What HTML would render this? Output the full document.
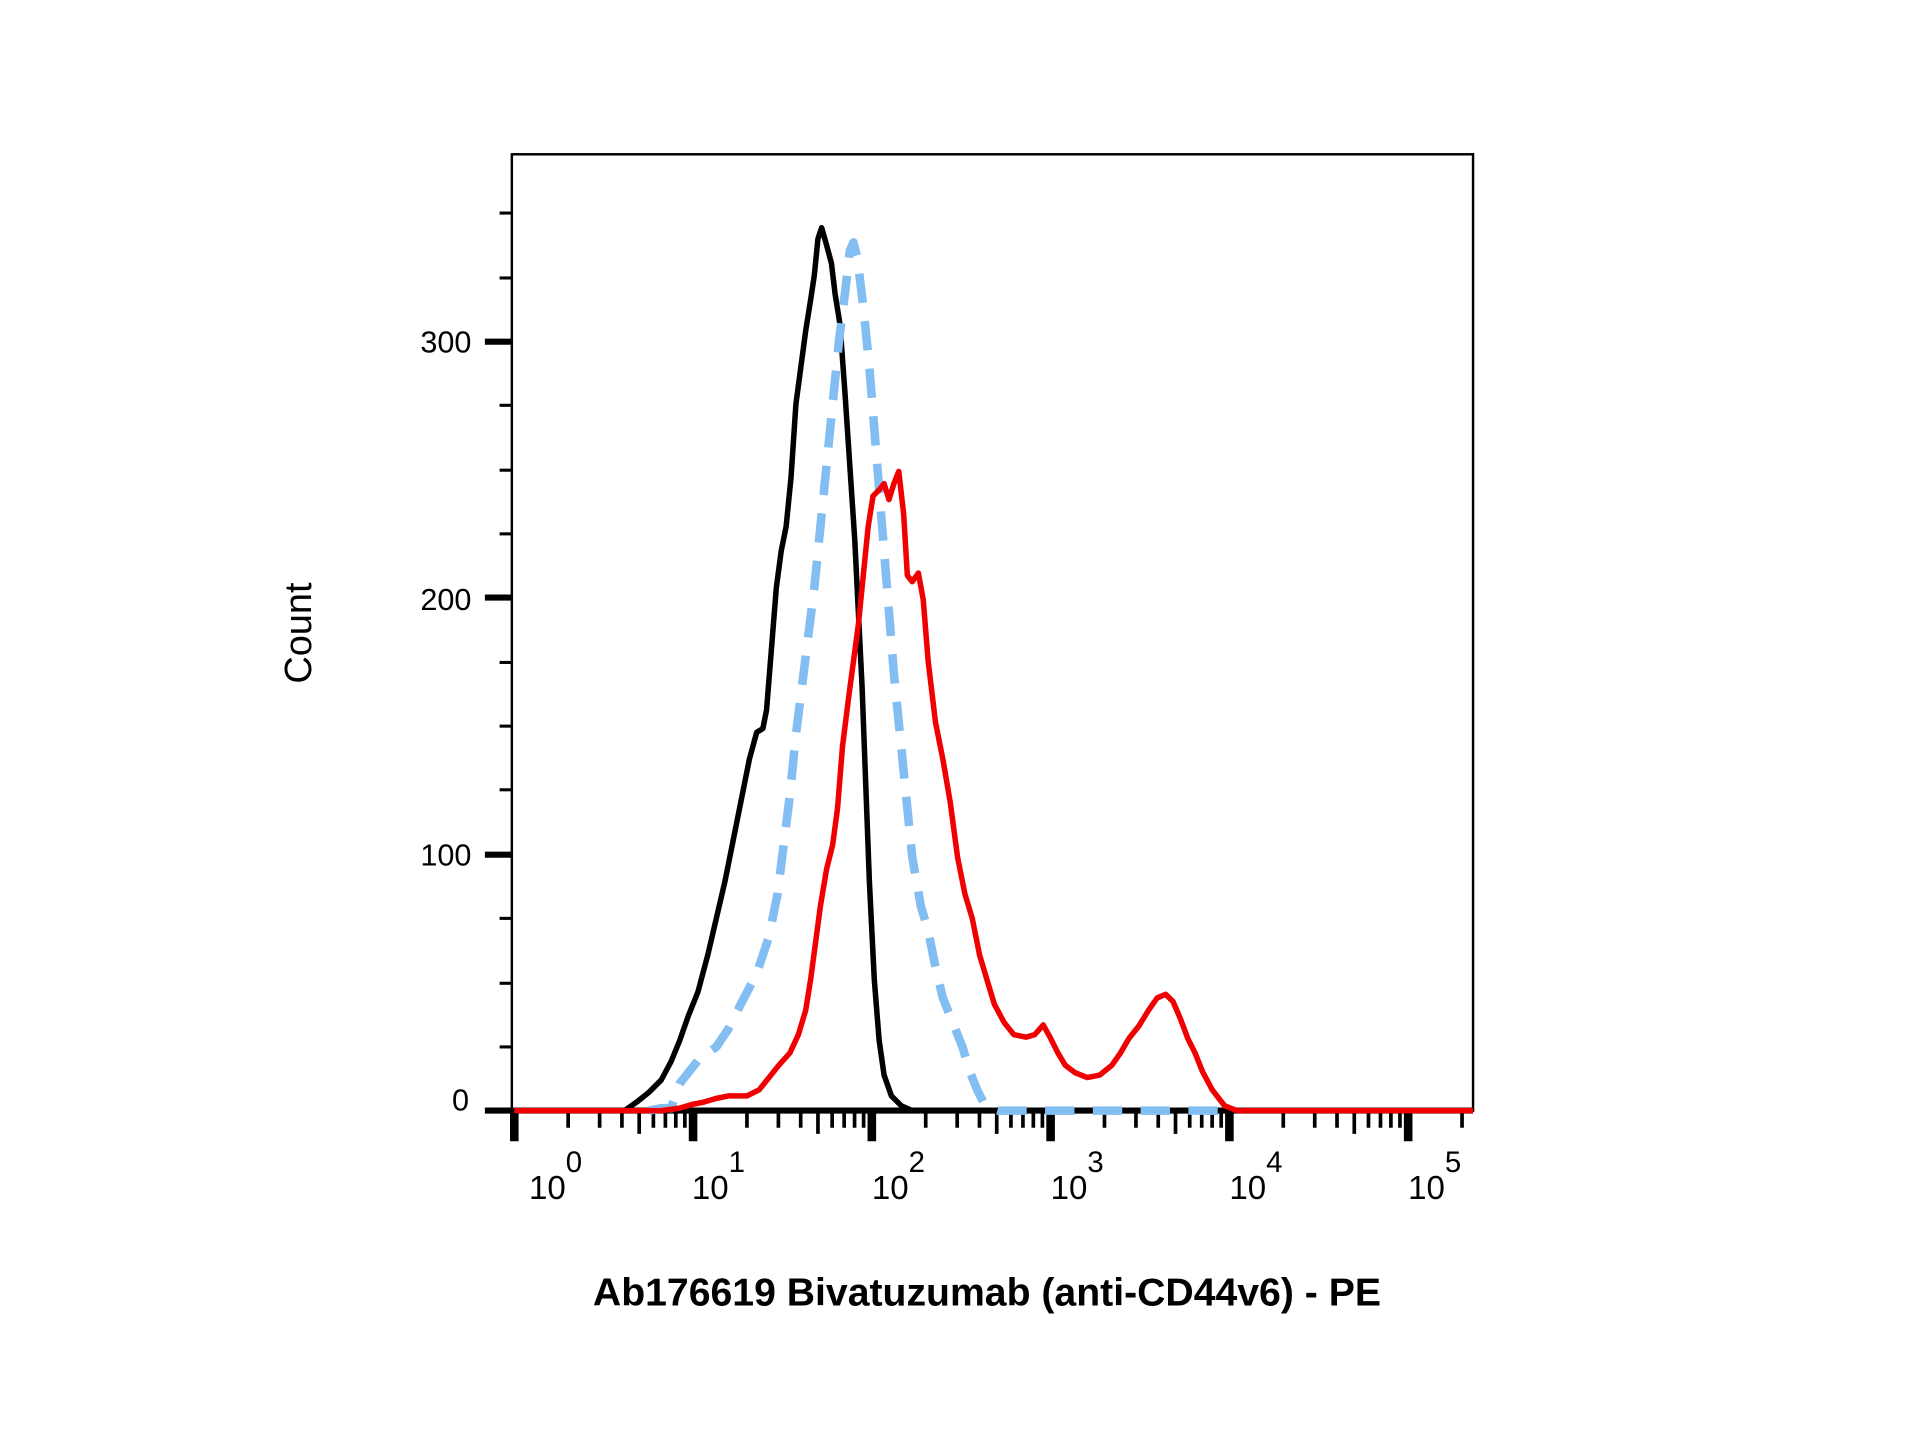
<!DOCTYPE html>
<html><head><meta charset="utf-8"><style>html,body{margin:0;padding:0;background:#fff}svg{display:block}</style></head>
<body>
<svg width="1920" height="1440" viewBox="0 0 1568 1176" xmlns="http://www.w3.org/2000/svg" font-family="Liberation Sans, Arial, sans-serif">
<rect x="0" y="0" width="1568" height="1176" fill="#fff"/>
<rect x="418" y="126" width="785" height="781" fill="none" stroke="#000" stroke-width="2"/>
<g stroke="#000">
<line x1="396" y1="907" x2="1203" y2="907" stroke-width="5"/>
<g stroke-width="5">
<line x1="396" y1="698" x2="418" y2="698"/><line x1="396" y1="488" x2="418" y2="488"/><line x1="396" y1="279" x2="418" y2="279"/>
</g>
<g stroke-width="2.5">
<line x1="408" y1="855" x2="418" y2="855"/><line x1="408" y1="803" x2="418" y2="803"/><line x1="408" y1="750" x2="418" y2="750"/>
<line x1="408" y1="645" x2="418" y2="645"/><line x1="408" y1="593" x2="418" y2="593"/><line x1="408" y1="541" x2="418" y2="541"/>
<line x1="408" y1="436" x2="418" y2="436"/><line x1="408" y1="384" x2="418" y2="384"/><line x1="408" y1="331" x2="418" y2="331"/>
<line x1="408" y1="227" x2="418" y2="227"/><line x1="408" y1="174" x2="418" y2="174"/>
</g>
<g stroke-width="7">
<line x1="420" y1="907" x2="420" y2="932"/><line x1="566" y1="907" x2="566" y2="932"/><line x1="712" y1="907" x2="712" y2="932"/>
<line x1="858" y1="907" x2="858" y2="932"/><line x1="1004" y1="907" x2="1004" y2="932"/><line x1="1150" y1="907" x2="1150" y2="932"/>
</g>
<g stroke-width="3">
<path d="M464 907v14M489.7 907v14M507.9 907v14M522 907v19M533.6 907v14M543.4 907v14M551.9 907v14M559.3 907v14
M610 907v14M635.7 907v14M653.9 907v14M668 907v19M679.6 907v14M689.4 907v14M697.9 907v14M705.3 907v14
M756 907v14M781.7 907v14M799.9 907v14M814 907v19M825.6 907v14M835.4 907v14M843.9 907v14M851.3 907v14
M902 907v14M927.7 907v14M945.9 907v14M960 907v19M971.6 907v14M981.4 907v14M989.9 907v14M997.3 907v14
M1048 907v14M1073.7 907v14M1091.9 907v14M1106 907v19M1117.6 907v14M1127.4 907v14M1135.9 907v14M1143.3 907v14
M1194 907v14"/>
</g>
</g>
<g font-size="25" fill="#000" text-anchor="end">
<text x="385" y="288">300</text><text x="385" y="498">200</text><text x="385" y="707">100</text><text x="383" y="907">0</text>
</g>
<g font-size="27" fill="#000">
<text x="432" y="979">10<tspan dy="-22" font-size="24">0</tspan></text>
<text x="565" y="979">10<tspan dy="-22" font-size="24">1</tspan></text>
<text x="712" y="979">10<tspan dy="-22" font-size="24">2</tspan></text>
<text x="858" y="979">10<tspan dy="-22" font-size="24">3</tspan></text>
<text x="1004" y="979">10<tspan dy="-22" font-size="24">4</tspan></text>
<text x="1150" y="979">10<tspan dy="-22" font-size="24">5</tspan></text>
</g>
<text transform="translate(254,517) rotate(-90)" font-size="31" text-anchor="middle">Count</text>
<text x="806" y="1066" font-size="32" font-weight="bold" text-anchor="middle">Ab176619 Bivatuzumab (anti-CD44v6) - PE</text>
<g fill="none" stroke-linejoin="round">
<polyline stroke="#000" stroke-width="4.5" points="420,907 510,907 520,900 530,892 540,882 548,867 555,850 562,830 570,810 578,780 585,750 592,720 598,690 605,655 612,620 618,598 623,595 626,580 630,530 634,480 638,450 642,430 646,390 650,330 654,300 658,270 662,245 665,225 668,195 671,186 675,200 679,215 682,240 686,265 690,320 694,380 698,440 701,500 704,560 707,640 710,720 714,800 718,850 722,878 728,895 736,903 745,907 1000,907"/>
<polyline stroke="#82bef2" stroke-width="7" stroke-dasharray="24,15" points="530,907 540,905 548,905 555,885 570,866 585,855 595,840 605,820 618,795 628,765 635,730 640,690 645,650 650,600 655,560 660,520 665,480 670,430 675,380 680,330 685,280 690,240 694,205 697,198 700,210 705,250 710,300 714,350 718,400 722,450 726,500 730,550 735,600 740,650 745,700 752,740 758,760 764,790 770,815 778,835 786,855 792,875 798,890 805,904 815,907 1000,907"/>
<polyline stroke="#f00000" stroke-width="4.5" points="420,907 540,907 555,905 565,902 575,900 585,897 595,895 610,895 620,890 628,880 636,870 645,860 652,845 658,825 662,800 666,770 670,740 675,710 680,690 684,660 688,610 693,570 697,540 701,510 705,470 709,430 713,405 718,400 722,395 726,408 730,395 734,385 738,420 741,470 745,475 750,468 754,490 758,540 764,590 770,620 776,655 782,700 788,730 794,750 800,780 806,800 812,820 820,835 828,845 838,847 845,845 852,837 858,848 864,860 870,870 878,876 888,880 898,878 908,870 915,860 922,848 930,838 938,825 945,815 952,812 958,818 964,832 970,848 976,860 982,875 990,890 1000,903 1010,907 1203,907"/>
</g>
</svg>
</body></html>
